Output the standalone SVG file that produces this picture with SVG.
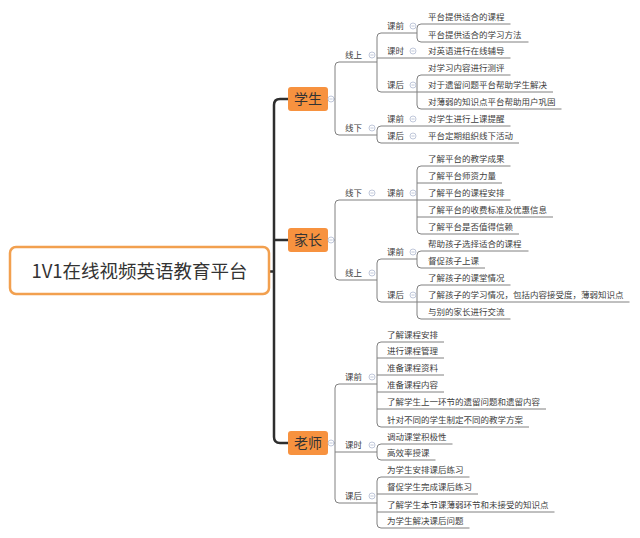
<svg xmlns="http://www.w3.org/2000/svg" width="640" height="538" viewBox="0 0 640 538">
<style>
text{font-family:"Noto Sans CJK SC","Noto Sans",sans-serif;fill:#404040}
.t{font-size:8.5px}
.m{font-size:14px;fill:#333;text-anchor:middle}
.r{font-size:18.5px;fill:#333;text-anchor:middle}
.ln{fill:none;stroke:#808080;stroke-width:1}
.tr{fill:none;stroke:#2e2e2e;stroke-width:2.5}
.box{fill:#F7923F}
</style>
<defs>
<g id="tog"><circle r="3" fill="#fff" stroke="#b0bad0" stroke-width="0.8"/><path d="M-1.6,0H1.6" stroke="#b0bad0" stroke-width="0.8"/></g>
</defs>
<rect width="640" height="538" fill="#fff"/>
<g id="connectors">
<path class="tr" d="M269,271.5H274M288,99H280Q274,99 274,105V437Q274,443 280,443H288M274,240H288"/>
<path class="ln" d="M328,99H335M328,240H335M328,443H335"/>
<!-- 学生 -->
<path class="ln" d="M335,99V66Q335,62 339,62H377M335,99V131Q335,135 339,135H377
M377,62V37Q377,33 381,33H417M377,58H417M377,62V88Q377,92 381,92H417
M417,33V28Q417,24 421,24H510.5M417,33V38Q417,42 421,42H528.5M417,58H510.5
M417,92V79Q417,75 421,75H510.5M417,92H553M417,92V105Q417,109 421,109H561.5
M377,135V130Q377,126 381,126H417M377,135V139Q377,143 381,143H417
M417,126H510.5M417,143H519"/>
<!-- 家长 -->
<path class="ln" d="M335,240V204Q335,200 339,200H417M335,240V276Q335,280 339,280H377
M417,200V170Q417,166 421,166H510.5M417,183H502M417,200H510.5M417,217H553M417,200V230Q417,234 421,234H519
M377,280V263Q377,259 381,259H417M377,280V298Q377,302 381,302H417
M417,259V255Q417,251 421,251H528.5M417,259V264Q417,268 421,268H485
M417,302V289Q417,285 421,285H510.5M417,302H629.5M417,302V315Q417,319 421,319H510.5"/>
<!-- 老师 -->
<path class="ln" d="M335,443V388Q335,384 339,384H377M335,452H377M335,443V499Q335,503 339,503H377
M377,384V346Q377,342 381,342H444M377,358H444M377,375H444M377,392H444M377,409H546M377,384V423Q377,427 381,427H529
M377,452V448Q377,444 381,444H452.5M377,452V456Q377,460 381,460H435.5
M377,503V481Q377,477 381,477H469.5M377,494H478M377,512H554.5M377,503V524Q377,528 381,528H469.5"/>
</g>
<g id="root">
<rect x="10" y="247" width="259" height="47" rx="6" fill="#fff" stroke="#F2A04F" stroke-width="2.5"/>
<text class="r" x="139.5" y="278">1V1在线视频英语教育平台</text>
</g>
<g id="n-student">
<rect class="box" x="288" y="87" width="40" height="24" rx="3"/>
<text class="m" x="308" y="104">学生</text>
<use href="#tog" x="331" y="99"/>
</g>
<g id="n-student-online"><text class="t" x="345" y="58">线上</text><use href="#tog" x="372" y="55"/></g>
<g id="n-s-on-pre"><text class="t" x="387" y="29">课前</text><use href="#tog" x="413" y="26"/></g>
<g id="l1"><text class="t" x="428" y="20">平台提供适合的课程</text></g>
<g id="l2"><text class="t" x="428" y="38">平台提供适合的学习方法</text></g>
<g id="n-s-on-in"><text class="t" x="387" y="54">课时</text><use href="#tog" x="413" y="51"/></g>
<g id="l3"><text class="t" x="428" y="54">对英语进行在线辅导</text></g>
<g id="n-s-on-post"><text class="t" x="387" y="88">课后</text><use href="#tog" x="413" y="85"/></g>
<g id="l4"><text class="t" x="428" y="71">对学习内容进行测评</text></g>
<g id="l5"><text class="t" x="428" y="88">对于遗留问题平台帮助学生解决</text></g>
<g id="l6"><text class="t" x="428" y="105">对薄弱的知识点平台帮助用户巩固</text></g>
<g id="n-student-offline"><text class="t" x="345" y="131">线下</text><use href="#tog" x="372" y="128"/></g>
<g id="n-s-off-pre"><text class="t" x="387" y="122">课前</text><use href="#tog" x="413" y="119"/></g>
<g id="l7"><text class="t" x="428" y="122">对学生进行上课提醒</text></g>
<g id="n-s-off-post"><text class="t" x="387" y="139">课后</text><use href="#tog" x="413" y="136"/></g>
<g id="l8"><text class="t" x="428" y="139">平台定期组织线下活动</text></g>

<g id="n-parent">
<rect class="box" x="288" y="228" width="40" height="24" rx="3"/>
<text class="m" x="308" y="245">家长</text>
<use href="#tog" x="331" y="240"/>
</g>
<g id="n-p-offline"><text class="t" x="345" y="196">线下</text><use href="#tog" x="372" y="193"/></g>
<g id="n-p-off-pre"><text class="t" x="387" y="196">课前</text><use href="#tog" x="413" y="193"/></g>
<g id="l9"><text class="t" x="428" y="162">了解平台的教学成果</text></g>
<g id="l10"><text class="t" x="428" y="179">了解平台师资力量</text></g>
<g id="l11"><text class="t" x="428" y="196">了解平台的课程安排</text></g>
<g id="l12"><text class="t" x="428" y="213">了解平台的收费标准及优惠信息</text></g>
<g id="l13"><text class="t" x="428" y="230">了解平台是否值得信赖</text></g>
<g id="n-p-online"><text class="t" x="345" y="276">线上</text><use href="#tog" x="372" y="273"/></g>
<g id="n-p-on-pre"><text class="t" x="387" y="255">课前</text><use href="#tog" x="413" y="252"/></g>
<g id="l14"><text class="t" x="428" y="247">帮助孩子选择适合的课程</text></g>
<g id="l15"><text class="t" x="428" y="264">督促孩子上课</text></g>
<g id="n-p-on-post"><text class="t" x="387" y="298">课后</text><use href="#tog" x="413" y="295"/></g>
<g id="l16"><text class="t" x="428" y="281">了解孩子的课堂情况</text></g>
<g id="l17"><text class="t" x="428" y="298">了解孩子的学习情况，包括内容接受度，薄弱知识点</text></g>
<g id="l18"><text class="t" x="428" y="315">与别的家长进行交流</text></g>

<g id="n-teacher">
<rect class="box" x="288" y="431" width="40" height="24" rx="3"/>
<text class="m" x="308" y="448">老师</text>
<use href="#tog" x="331" y="443"/>
</g>
<g id="n-t-pre"><text class="t" x="345" y="380">课前</text><use href="#tog" x="372" y="377"/></g>
<g id="l19"><text class="t" x="387" y="338">了解课程安排</text></g>
<g id="l20"><text class="t" x="387" y="354">进行课程管理</text></g>
<g id="l21"><text class="t" x="387" y="371">准备课程资料</text></g>
<g id="l22"><text class="t" x="387" y="388">准备课程内容</text></g>
<g id="l23"><text class="t" x="387" y="405">了解学生上一环节的遗留问题和遗留内容</text></g>
<g id="l24"><text class="t" x="387" y="423">针对不同的学生制定不同的教学方案</text></g>
<g id="n-t-in"><text class="t" x="345" y="448">课时</text><use href="#tog" x="372" y="445"/></g>
<g id="l25"><text class="t" x="387" y="440">调动课堂积极性</text></g>
<g id="l26"><text class="t" x="387" y="456">高效率授课</text></g>
<g id="n-t-post"><text class="t" x="345" y="499">课后</text><use href="#tog" x="372" y="496"/></g>
<g id="l27"><text class="t" x="387" y="473">为学生安排课后练习</text></g>
<g id="l28"><text class="t" x="387" y="490">督促学生完成课后练习</text></g>
<g id="l29"><text class="t" x="387" y="508">了解学生本节课薄弱环节和未接受的知识点</text></g>
<g id="l30"><text class="t" x="387" y="524">为学生解决课后问题</text></g>
</svg>
